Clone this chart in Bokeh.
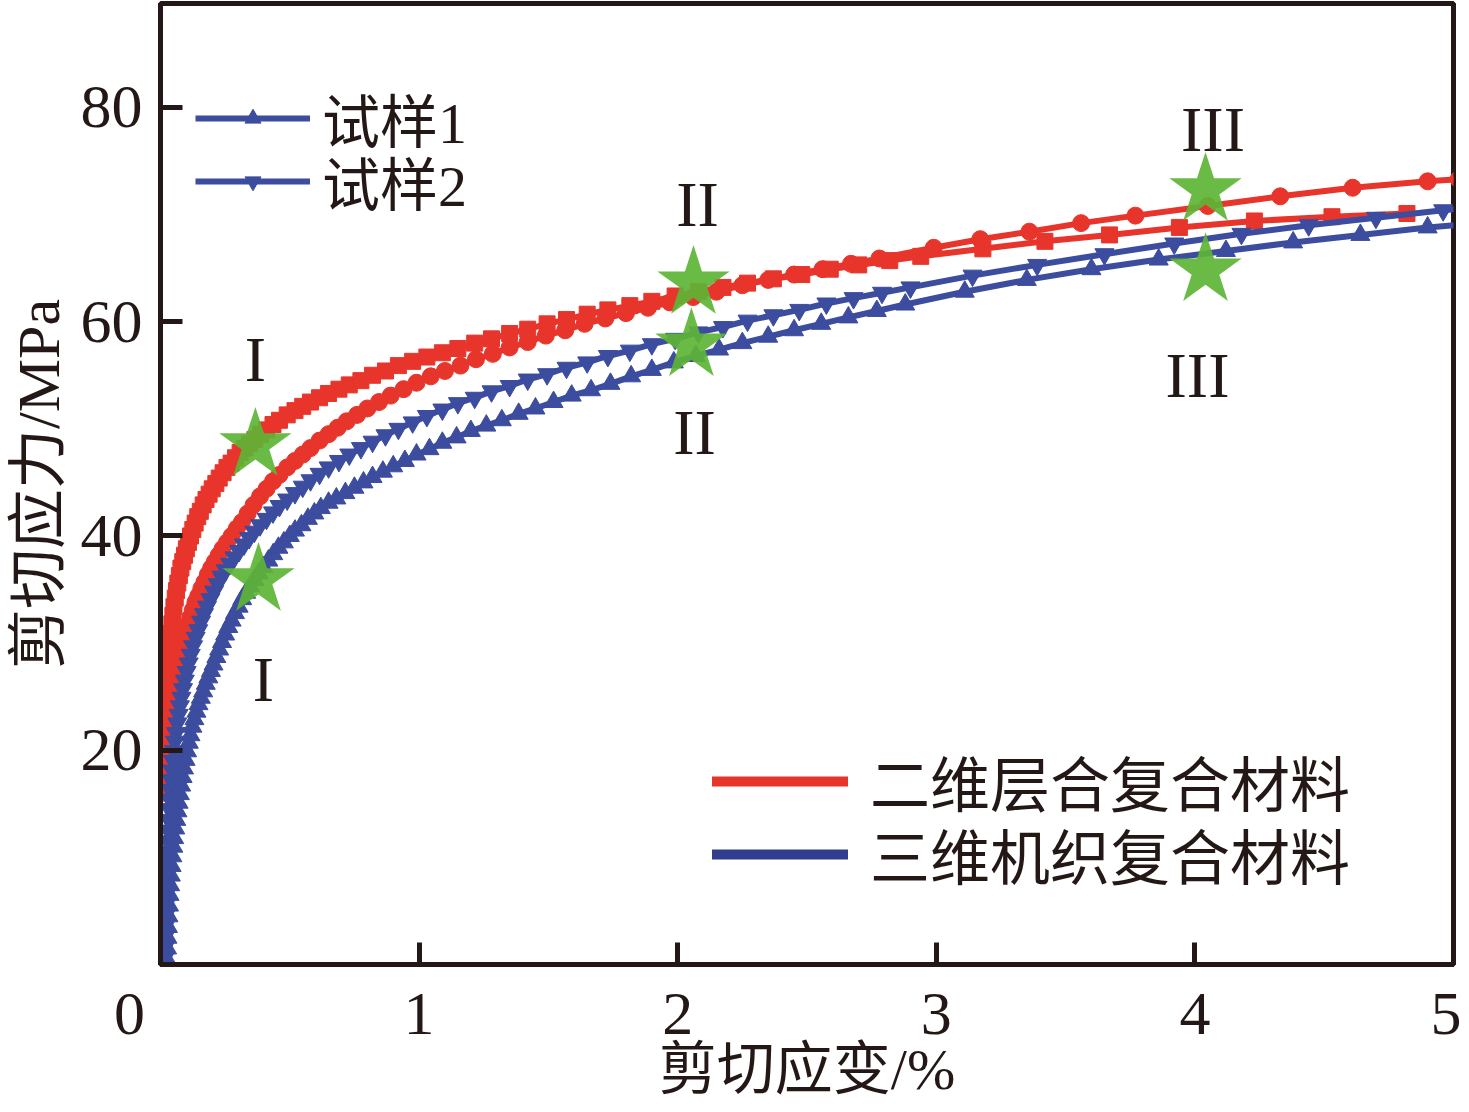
import math
from bokeh.plotting import figure
from bokeh.models import Range1d, FixedTicker, Legend, LegendItem
from bokeh.core.properties import value
from bokeh.embed import file_html
from bokeh.resources import INLINE

# ---------------- data ----------------
# 二维层合复合材料, circle markers
rc_x = [0.022, 0.024, 0.026, 0.028, 0.031, 0.034, 0.037, 0.041, 0.045, 0.050, 0.055, 0.061, 0.067, 0.074,
        0.081, 0.089, 0.097, 0.106, 0.115, 0.125, 0.135, 0.146, 0.158, 0.170, 0.183, 0.196, 0.210, 0.225,
        0.240, 0.257, 0.275, 0.295, 0.315, 0.337, 0.360, 0.385, 0.410, 0.435, 0.460, 0.490, 0.520, 0.550,
        0.580, 0.615, 0.650, 0.685, 0.720, 0.760, 0.800, 0.845, 0.890, 0.940, 0.990, 1.045, 1.10, 1.16,
        1.22, 1.285, 1.35, 1.42, 1.49, 1.565, 1.64, 1.72, 1.80, 1.885, 1.97, 2.06, 2.15, 2.25, 2.35, 2.45,
        2.56, 2.67, 2.78, 2.99, 3.17, 3.36, 3.56, 3.77, 4.05, 4.33, 4.61, 4.90, 5.02]
rc_y = [17.0, 18.0, 19.0, 20.0, 21.0, 22.0, 23.0, 24.0, 25.0, 26.0, 27.0, 27.8, 28.5, 29.1,
        29.7, 30.4, 31.0, 31.7, 32.4, 33.1, 33.8, 34.4, 35.1, 35.7, 36.4, 37.0, 37.6, 38.2,
        38.8, 39.4, 40.0, 40.7, 41.3, 42.1, 42.9, 43.7, 44.4, 45.1, 45.7, 46.4, 47.0, 47.6,
        48.2, 48.9, 49.5, 50.1, 50.7, 51.3, 51.9, 52.5, 53.1, 53.7, 54.3, 54.9, 55.4, 55.9,
        56.5, 57.0, 57.6, 58.1, 58.7, 59.2, 59.8, 60.3, 60.8, 61.3, 61.8, 62.3, 62.8, 63.4, 63.9, 64.4,
        64.9, 65.4, 65.9, 66.9, 67.7, 68.4, 69.2, 69.9, 70.8, 71.7, 72.5, 73.1, 73.3]

# 二维层合复合材料, square markers
rs_x = [0.010, 0.011, 0.012, 0.0135, 0.015, 0.0165, 0.018, 0.020, 0.022, 0.024, 0.026, 0.028, 0.031,
        0.034, 0.037, 0.040, 0.044, 0.048, 0.052, 0.057, 0.062, 0.067, 0.073, 0.079, 0.086, 0.093, 0.100,
        0.108, 0.116, 0.125, 0.134, 0.144, 0.154, 0.165, 0.176, 0.188, 0.200, 0.214, 0.227, 0.242, 0.257,
        0.273, 0.290, 0.308, 0.326, 0.345, 0.365, 0.387, 0.41, 0.435, 0.46, 0.49, 0.52, 0.55, 0.58, 0.615,
        0.65, 0.69, 0.73, 0.775, 0.82, 0.87, 0.92, 0.975, 1.03, 1.09, 1.15, 1.215, 1.28, 1.35, 1.42, 1.495,
        1.57, 1.65, 1.73, 1.815, 1.90, 1.99, 2.08, 2.175, 2.27, 2.37, 2.48, 2.59, 2.70, 2.82, 2.94, 3.18,
        3.42, 3.67, 3.94, 4.23, 4.53, 4.82]
rs_y = [16.0, 17.0, 18.0, 19.0, 20.0, 21.0, 22.0, 23.0, 24.0, 25.0, 26.0, 27.0, 28.0,
        29.0, 30.0, 30.9, 31.8, 32.6, 33.4, 34.2, 34.9, 35.6, 36.3, 37.0, 37.6, 38.2, 38.8,
        39.4, 40.0, 40.6, 41.2, 41.8, 42.3, 42.9, 43.4, 43.9, 44.4, 44.9, 45.4, 45.9, 46.4,
        46.8, 47.3, 47.8, 48.2, 48.6, 49.0, 49.5, 49.9, 50.4, 50.8, 51.3, 51.7, 52.1, 52.5, 52.9,
        53.3, 53.7, 54.1, 54.5, 55.0, 55.4, 55.9, 56.3, 56.7, 57.1, 57.5, 58.0, 58.4, 58.9, 59.3, 59.8,
        60.2, 60.7, 61.1, 61.5, 61.9, 62.4, 62.8, 63.2, 63.6, 64.0, 64.4, 64.9, 65.3, 65.7, 66.1, 66.8,
        67.5, 68.1, 68.8, 69.4, 69.8, 70.1]

# 三维机织复合材料, 试样2 (down triangles)
bd_x = [0.014, 0.015, 0.016, 0.017, 0.018, 0.019, 0.020, 0.0215, 0.023, 0.0245, 0.026, 0.028, 0.030,
        0.032, 0.034, 0.0365, 0.039, 0.042, 0.045, 0.0485, 0.052, 0.056, 0.060, 0.065, 0.070, 0.075,
        0.081, 0.087, 0.094, 0.101, 0.109, 0.117, 0.126, 0.136, 0.146, 0.157, 0.168, 0.180, 0.193, 0.207,
        0.221, 0.236, 0.252, 0.269, 0.286, 0.304, 0.323, 0.343, 0.363, 0.385, 0.41, 0.435, 0.46, 0.49,
        0.52, 0.55, 0.58, 0.615, 0.65, 0.69, 0.73, 0.775, 0.82, 0.87, 0.92, 0.975, 1.03, 1.09, 1.15, 1.215,
        1.28, 1.35, 1.42, 1.495, 1.57, 1.65, 1.73, 1.815, 1.90, 1.99, 2.08, 2.175, 2.27, 2.37, 2.47, 2.575,
        2.68, 2.79, 2.90, 3.14, 3.39, 3.65, 3.92, 4.18, 4.44, 4.70, 4.96, 5.05]
bd_y = [0.5, 1.5, 2.5, 3.5, 4.5, 5.5, 6.5, 7.5, 8.5, 9.5, 10.5, 11.5, 12.5,
        13.5, 14.5, 15.4, 16.3, 17.2, 18.1, 19.0, 19.9, 20.8, 21.6, 22.5, 23.3, 24.1,
        24.9, 25.7, 26.5, 27.3, 28.1, 28.9, 29.7, 30.5, 31.2, 32.0, 32.7, 33.4, 34.1, 34.8,
        35.5, 36.2, 36.8, 37.4, 38.0, 38.6, 39.2, 39.8, 40.4, 41.0, 41.6, 42.2, 42.8, 43.4,
        44.0, 44.6, 45.2, 45.8, 46.4, 47.0, 47.6, 48.2, 48.8, 49.4, 50.0, 50.6, 51.2, 51.8, 52.4, 52.9,
        53.5, 54.0, 54.6, 55.1, 55.7, 56.2, 56.8, 57.3, 57.9, 58.4, 59.0, 59.5, 60.1, 60.6, 61.1, 61.7,
        62.2, 62.7, 63.2, 64.3, 65.3, 66.3, 67.3, 68.2, 69.0, 69.7, 70.4, 70.6]

# 三维机织复合材料, 试样1 (up triangles)
bu_x = [0.024, 0.0255, 0.027, 0.029, 0.031, 0.033, 0.035, 0.0375, 0.040, 0.043, 0.046, 0.0495, 0.053,
        0.057, 0.061, 0.0655, 0.070, 0.075, 0.080, 0.0855, 0.091, 0.097, 0.103, 0.1095, 0.116, 0.1235,
        0.131, 0.139, 0.147, 0.156, 0.165, 0.175, 0.185, 0.195, 0.205, 0.216, 0.227, 0.238, 0.250, 0.262,
        0.275, 0.288, 0.302, 0.316, 0.331, 0.347, 0.363, 0.380, 0.398, 0.417, 0.436, 0.456, 0.477, 0.50,
        0.52, 0.545, 0.57, 0.595, 0.62, 0.65, 0.68, 0.715, 0.75, 0.785, 0.82, 0.86, 0.90, 0.945, 0.99,
        1.04, 1.09, 1.145, 1.20, 1.26, 1.32, 1.385, 1.45, 1.52, 1.59, 1.665, 1.74, 1.82, 1.90, 1.985,
        2.07, 2.16, 2.25, 2.35, 2.45, 2.555, 2.66, 2.77, 2.88, 3.11, 3.35, 3.60, 3.86, 4.12, 4.38, 4.64,
        4.90, 5.05]
bu_y = [0.5, 1.5, 2.5, 3.5, 4.5, 5.5, 6.5, 7.4, 8.3, 9.2, 10.1, 11.0, 11.8,
        12.7, 13.5, 14.3, 15.1, 15.9, 16.7, 17.5, 18.3, 19.1, 19.9, 20.7, 21.4, 22.2,
        22.9, 23.6, 24.3, 24.9, 25.5, 26.2, 26.8, 27.4, 28.0, 28.7, 29.4, 30.1, 30.8, 31.5,
        32.1, 32.8, 33.4, 34.1, 34.7, 35.3, 35.9, 36.5, 37.1, 37.7, 38.3, 38.9, 39.4, 40.0,
        40.5, 41.0, 41.6, 42.1, 42.6, 43.1, 43.5, 44.0, 44.5, 45.0, 45.5, 46.0, 46.5, 47.0, 47.6,
        48.1, 48.7, 49.2, 49.8, 50.3, 50.8, 51.4, 51.9, 52.5, 53.1, 53.6, 54.2, 54.9, 55.5, 56.2,
        56.8, 57.4, 58.0, 58.6, 59.2, 59.8, 60.4, 61.0, 61.6, 62.8, 63.9, 64.9, 65.8, 66.6, 67.4, 68.1,
        68.8, 69.1]

# stage markers (stars) and their labels
star_x = [0.367, 0.379, 2.061, 2.053, 4.041, 4.041]
star_y = [48.5, 35.9, 63.6, 57.8, 72.3, 64.8]
stage_text = ["I", "I", "II", "II", "III", "III"]
stage_x = [0.367, 0.398, 2.077, 2.065, 4.07, 4.01]
stage_y = [56.5, 26.6, 70.9, 49.7, 77.9, 55.0]

x_ticks = [0, 1, 2, 3, 4, 5]
x_tick_labels = {0: "0\u2002\u2002"}   # shared origin label sits left of the corner
y_ticks = [20, 40, 60, 80]
x_title = "剪切应变/%"
y_title = "剪切应力/MPa"
legend_samples = ["试样1", "试样2"]
legend_materials = ["二维层合复合材料", "三维机织复合材料"]

# ---------------- styling ----------------
RED = "#E8352C"
BLUE = "#3C4C9E"
BLUE_DARK = "#323C8F"
GREEN = "#5DB436"
INK = "#231815"
FONT = "Liberation Serif, Noto Sans CJK SC"

p = figure(width=1461, height=1104,
           x_range=Range1d(0, 5), y_range=Range1d(0, 89.7),
           output_backend="svg", toolbar_location=None,
           min_border_left=160, min_border_right=8,
           min_border_top=3, min_border_bottom=139)
p.background_fill_color = "white"
p.border_fill_color = "white"
p.grid.visible = False
p.outline_line_color = INK
p.outline_line_width = 5

for ax in (p.xaxis[0], p.yaxis[0]):
    ax.axis_line_color = INK
    ax.axis_line_width = 5
    ax.major_tick_line_color = INK
    ax.major_tick_line_width = 5
    ax.major_tick_in = 22
    ax.major_tick_out = 0
    ax.minor_tick_in = 0
    ax.minor_tick_out = 0
    ax.major_label_text_font = FONT
    ax.major_label_text_font_size = "62px"
    ax.major_label_text_color = INK
    ax.axis_label_text_font = FONT
    ax.axis_label_text_font_style = "normal"
    ax.axis_label_text_color = INK

p.xaxis.ticker = FixedTicker(ticks=x_ticks)
p.xaxis.major_label_overrides = x_tick_labels
p.yaxis.ticker = FixedTicker(ticks=y_ticks)
p.xaxis.major_label_standoff = 14
p.yaxis.major_label_standoff = 18

p.xaxis.axis_label = x_title
p.xaxis.axis_label_text_font_size = "58px"
p.xaxis.axis_label_standoff = -13
p.yaxis.axis_label = y_title
p.yaxis.axis_label_text_font_size = "60px"
p.yaxis.axis_label_standoff = 6

# curves
lc = p.line(rc_x, rc_y, color=RED, line_width=6)
sc = p.scatter(rc_x, rc_y, marker="circle", size=17, color=RED)
ls = p.line(rs_x, rs_y, color=RED, line_width=6)
ss = p.scatter(rs_x, rs_y, marker="square", size=16, color=RED)
lu = p.line(bu_x, bu_y, color=BLUE, line_width=6)
su = p.scatter(bu_x, bu_y, marker="triangle", size=19, color=BLUE)
ld = p.line(bd_x, bd_y, color=BLUE, line_width=6)
sd = p.scatter(bd_x, bd_y, marker="inverted_triangle", size=19, color=BLUE)

# stars
p.scatter(star_x, star_y, marker="star", size=76, color=GREEN, fill_alpha=0.92, line_alpha=0.0)

# stage labels
p.text(stage_x, stage_y, text=stage_text, text_font=value("Liberation Serif"),
       text_font_size="64px", text_color=INK, text_align="center", text_baseline="middle")


def one_item_legend(label, renderers, loc, glyph_w, standoff, font_size):
    leg = Legend(items=[LegendItem(label=label, renderers=renderers)],
                 location=loc, orientation="vertical")
    leg.glyph_width = glyph_w
    leg.glyph_height = 40
    leg.label_height = 40
    leg.spacing = 0
    leg.label_standoff = standoff
    leg.padding = 0
    leg.margin = 0
    leg.border_line_color = None
    leg.background_fill_alpha = 0
    leg.label_text_font = FONT
    leg.label_text_font_size = font_size
    leg.label_text_color = INK
    p.add_layout(leg)


# legend: samples (one legend per row to control the row pitch)
one_item_legend(legend_samples[0], [lu, su], (35, 804), 115, 12, "58px")
one_item_legend(legend_samples[1], [ld, sd], (35, 741), 115, 12, "58px")

# legend: materials (line-only proxies, no visible data)
nan = float("nan")
r_red = p.line([nan], [nan], color=RED, line_width=10, line_cap="round")
r_blue = p.line([nan], [nan], color=BLUE_DARK, line_width=10, line_cap="round")
one_item_legend(legend_materials[0], [r_red], (552, 140), 136, 22, "60px")
one_item_legend(legend_materials[1], [r_blue], (552, 67), 136, 22, "60px")

open("out.html", "w").write(file_html(p, INLINE))
